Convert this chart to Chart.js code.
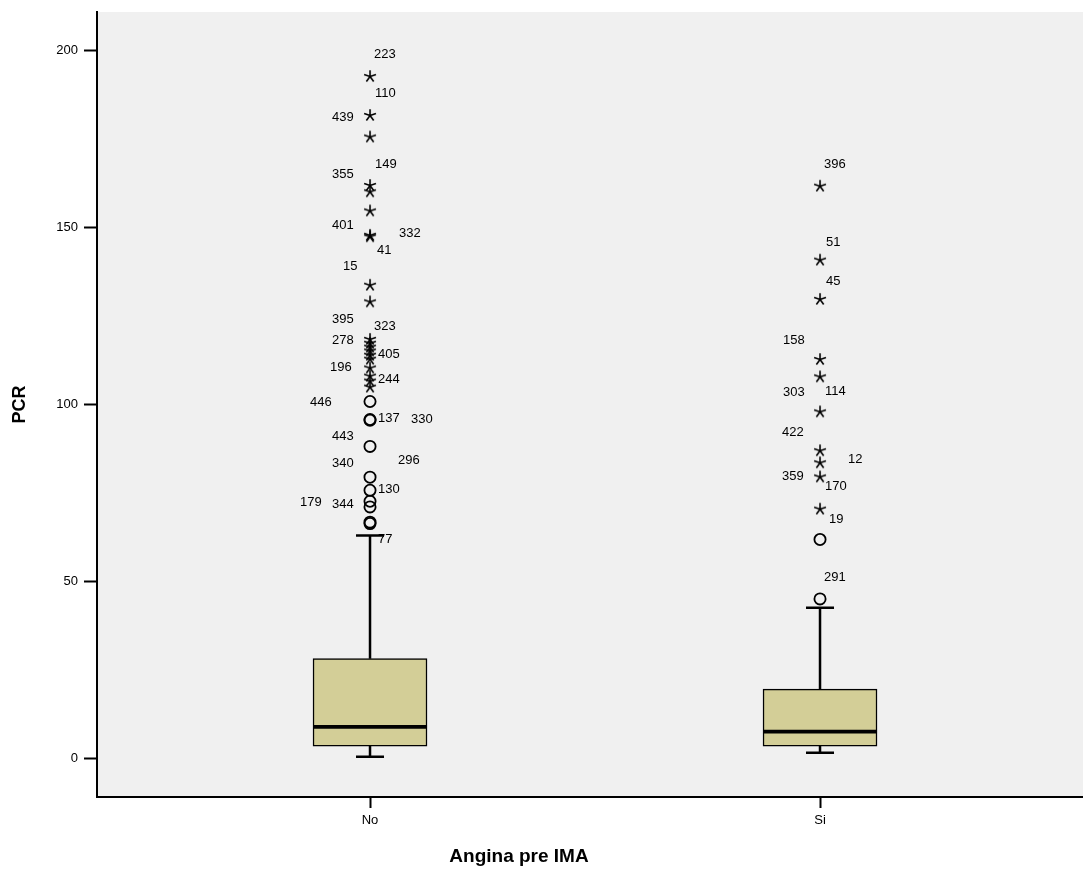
<!DOCTYPE html>
<html>
<head>
<meta charset="utf-8">
<script src="https://cdn.jsdelivr.net/npm/chart.js@4/dist/chart.umd.min.js"></script>
<style>
  html, body { margin: 0; padding: 0; background: #fff; }
  #wrap { width: 1083px; height: 869px; }
</style>
</head>
<body>
<div id="wrap"><canvas id="box-chart"></canvas></div>
<script>
const CATEGORIES = ['No', 'Si'];
const Y_TICKS = [0, 50, 100, 150, 200];

// box summary per group
const WHISKER_LOW = [0.5, 1.6];
const Q1 = [3.5, 3.5];
const MEDIAN = [8.9, 7.6];
const Q3 = [28.2, 19.6];
const WHISKER_HIGH = [63.0, 42.6];

// outliers (circles) and extremes (stars)
const OUTLIERS_NO = [100.9, 95.8, 95.6, 88.2, 79.5, 75.8, 72.7, 71.1, 66.8, 66.4];
const EXTREMES_NO = [192.9, 181.9, 175.8, 162.1, 160.3, 154.9, 148.0, 147.6, 133.9, 129.2,
                     118.6, 117.5, 116.4, 115.3, 114.1, 113.0, 110.5, 108.2, 106.8, 105.1];
const OUTLIERS_SI = [61.9, 45.1];
const EXTREMES_SI = [161.9, 141.0, 129.9, 112.9, 108.0, 98.1, 87.1, 83.7, 79.7, 70.6];

// case numbers shown next to the points, and the value they sit at
const CASES_NO = ['223','110','439','149','355','401','332','41','15','395','323','278','405',
                  '196','244','446','137','330','443','340','296','130','179','344','77'];
const CASES_NO_AT = [198.9, 188.1, 181.1, 167.8, 165.0, 150.6, 148.3, 143.5, 139.0, 124.2, 122.1, 118.1, 114.1,
                     110.6, 107.2, 100.6, 96.2, 95.8, 91.0, 83.3, 84.2, 76.0, 72.3, 71.8, 61.9];
const CASES_SI = ['396','51','45','158','303','114','422','12','359','170','19','291'];
const CASES_SI_AT = [167.8, 145.9, 134.8, 118.2, 103.5, 103.8, 92.2, 84.5, 79.6, 76.9, 67.7, 51.2];

// horizontal pixel offset of each case label from its group centre (layout only)
const CASES_NO_DX = [4, 5, -38, 5, -38, -38, 29, 7, -27, -38, 4, -38, 8,
                     -40, 8, -60, 8, 41, -38, -38, 28, 8, -70, -38, 8];
const CASES_SI_DX = [4, 6, 6, -37, -37, 5, -38, 28, -38, 5, 9, 4];

const FONT = '"Liberation Sans", Arial, sans-serif';

function makeStar() {
    const c = document.createElement('canvas');
    c.width = 16; c.height = 16;
    const g = c.getContext('2d');
    g.strokeStyle = '#000';
    g.lineWidth = 1.6;
    const r = 6.2;
    g.beginPath();
    for (let k = 0; k < 5; k++) {
        const a = -Math.PI / 2 + k * 2 * Math.PI / 5;
        g.moveTo(8, 8.5);
        g.lineTo(8 + r * Math.cos(a), 8.5 + r * Math.sin(a));
    }
    g.stroke();
    return c;
}
const STAR = makeStar();

const boxPlugin = {
    id: 'boxParts',
    beforeDraw(chart) {
        const { ctx, chartArea: a } = chart;
        ctx.save();
        ctx.fillStyle = '#f0f0f0';
        ctx.fillRect(a.left, a.top, a.right - a.left, a.bottom - a.top);
        ctx.restore();
    },
    afterDatasetsDraw(chart) {
        const { ctx, scales: { x, y } } = chart;
        const bars = chart.getDatasetMeta(0).data;
        ctx.save();
        ctx.strokeStyle = '#000';
        CATEGORIES.forEach((cat, i) => {
            const cx = x.getPixelForValue(i + 1);
            const half = bars[i].width / 2;
            const cap = 14;
            ctx.lineWidth = 2.5;
            ctx.beginPath();
            ctx.moveTo(cx, y.getPixelForValue(Q3[i]));
            ctx.lineTo(cx, y.getPixelForValue(WHISKER_HIGH[i]));
            ctx.moveTo(cx - cap, y.getPixelForValue(WHISKER_HIGH[i]));
            ctx.lineTo(cx + cap, y.getPixelForValue(WHISKER_HIGH[i]));
            ctx.moveTo(cx, y.getPixelForValue(Q1[i]));
            ctx.lineTo(cx, y.getPixelForValue(WHISKER_LOW[i]));
            ctx.moveTo(cx - cap, y.getPixelForValue(WHISKER_LOW[i]));
            ctx.lineTo(cx + cap, y.getPixelForValue(WHISKER_LOW[i]));
            ctx.stroke();
            ctx.lineWidth = 3.8;
            ctx.beginPath();
            ctx.moveTo(cx - half, y.getPixelForValue(MEDIAN[i]));
            ctx.lineTo(cx + half, y.getPixelForValue(MEDIAN[i]));
            ctx.stroke();
        });

        ctx.fillStyle = '#000';
        ctx.font = '13px ' + FONT;
        ctx.textAlign = 'left';
        ctx.textBaseline = 'middle';
        const groups = [[CASES_NO, CASES_NO_AT, CASES_NO_DX], [CASES_SI, CASES_SI_AT, CASES_SI_DX]];
        groups.forEach(([ids, at, dx], i) => {
            const cx = x.getPixelForValue(i + 1);
            ids.forEach((id, k) => ctx.fillText(id, cx + dx[k], y.getPixelForValue(at[k])));
        });

        ctx.font = 'bold 19px ' + FONT;
        ctx.textAlign = 'center';
        ctx.fillText('Angina pre IMA', x.left + 422, 857);
        ctx.restore();
    }
};

const toPoints = (vals, i) => vals.map(v => ({ x: i + 1, y: v }));

new Chart(document.getElementById('box-chart'), {
    type: 'bar',
    data: {
        datasets: [
            {
                type: 'bar',
                data: CATEGORIES.map((c, i) => ({ x: i + 1, y: [Q1[i], Q3[i]] })),
                backgroundColor: '#d3ce97',
                borderColor: '#000',
                borderWidth: 1.5,
                borderSkipped: false,
                barThickness: 114,
            },
            {
                type: 'scatter',
                data: [...toPoints(OUTLIERS_NO, 0), ...toPoints(OUTLIERS_SI, 1)],
                pointStyle: 'circle',
                pointRadius: 5.6,
                borderWidth: 1.8,
                borderColor: '#000',
                backgroundColor: 'rgba(0,0,0,0)',
            },
            {
                type: 'scatter',
                data: [...toPoints(EXTREMES_NO, 0), ...toPoints(EXTREMES_SI, 1)],
                pointStyle: STAR,
                pointRadius: 6,
            },
        ]
    },
    options: {
        responsive: true,
        maintainAspectRatio: false,
        animation: false,
        layout: { autoPadding: false, padding: { top: 12, right: 0, left: 0, bottom: 0 } },
        plugins: { legend: { display: false }, tooltip: { enabled: false } },
        scales: {
            x: {
                type: 'linear',
                min: 0.3933,
                max: 2.5844,
                offset: false,
                afterBuildTicks: s => { s.ticks = CATEGORIES.map((c, i) => ({ value: i + 1 })); },
                afterFit: s => { s.height = 72; s.paddingLeft = 0; s.paddingRight = 0; },
                ticks: {
                    callback: v => CATEGORIES[v - 1],
                    color: '#000',
                    font: { family: FONT, size: 13 },
                    padding: 5,
                    maxRotation: 0,
                },
                grid: { drawOnChartArea: false, tickLength: 11, tickColor: '#000', tickWidth: 2, offset: false },
                border: { display: true, color: '#000', width: 2 },
            },
            y: {
                type: 'linear',
                min: -10.9,
                max: 211,
                afterBuildTicks: s => { s.ticks = Y_TICKS.map(v => ({ value: v })); },
                afterFit: s => { s.width = 97; s.paddingTop = 0; s.paddingBottom = 0; },
                ticks: {
                    color: '#000',
                    font: { family: FONT, size: 13 },
                    padding: 6,
                },
                grid: { drawOnChartArea: false, tickLength: 13, tickColor: '#000', tickWidth: 2 },
                border: { display: true, color: '#000', width: 2 },
                title: {
                    display: true,
                    text: 'PCR',
                    color: '#000',
                    font: { family: FONT, size: 18, weight: 'bold' },
                    padding: { top: 9, bottom: 0 },
                },
            },
        },
    },
    plugins: [boxPlugin],
});
</script>
</body>
</html>
